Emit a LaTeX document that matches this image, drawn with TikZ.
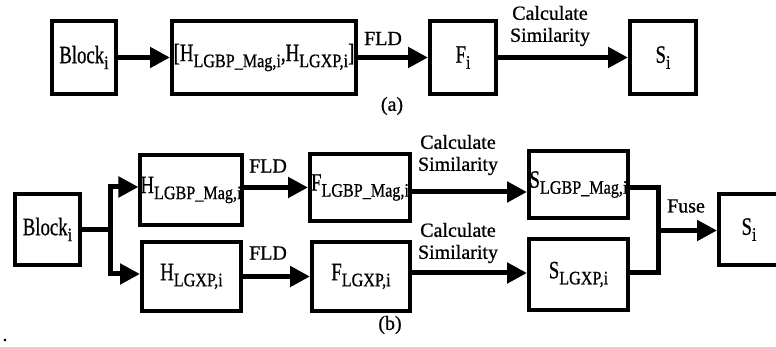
\documentclass[tikz,border=0pt]{standalone}
\usepackage{graphicx}
\usepackage{fontspec}
\setmainfont{Liberation Serif}[BoldFont={Liberation Serif}, BoldFeatures={FakeBold=0.8}]
\usetikzlibrary{arrows.meta}
\newcommand{\lowsub}[1]{\raisebox{-6pt}{\scalebox{0.85}[1]{\fontsize{19}{19}\selectfont\bfseries #1}}}
\newcommand{\bigtxt}[1]{\scalebox{0.75}[1]{\fontsize{25}{27}\selectfont\bfseries #1}}
\tikzset{
  box/.style={draw, line width=4pt, inner sep=0pt},
  arr/.style={line width=5pt, -{Triangle[length=20pt,width=20pt]}},
  ln/.style={line width=5pt},
  lbl/.style={font=\fontsize{20}{22}\selectfont\bfseries, align=center, inner sep=0pt},
}
\begin{document}
\begin{tikzpicture}[x=1pt,y=-1pt]
\useasboundingbox (0,0) rectangle (776,347);
\clip (0,0) rectangle (776,347);
% (a)
\node[box, minimum width=64pt, minimum height=73pt] (A1) at (84,57.5) {\bigtxt{Block}\lowsub{i}};
\node[box, minimum width=184pt, minimum height=73pt] (A2) at (264,57.5) {\bigtxt{[H}\lowsub{LGBP\_Mag,i}\bigtxt{,H}\lowsub{LGXP,i}\bigtxt{]}};
\node[box, minimum width=66pt, minimum height=73pt] (A3) at (463,57.5) {\bigtxt{F}\lowsub{i}};
\node[box, minimum width=66pt, minimum height=73pt] (A4) at (663,57.5) {\bigtxt{S}\lowsub{i}};
\draw[arr] (A1) -- (A2);
\draw[arr] (A2) -- (A3);
\draw[arr] (A3) -- (A4);
\node[lbl] (fldA) at (383,38.5) {FLD};
\node[lbl] (csA) at (550,26) {Calculate\\Similarity};
\node[lbl] (capA) at (392,106) {(a)};
% (b)
\node[box, minimum width=65pt, minimum height=71pt] (B1) at (47.5,229.5) {\bigtxt{Block}\lowsub{i}};
\node[box, minimum width=98pt, minimum height=70pt] (H1) at (191,190) {\bigtxt{H}\lowsub{LGBP\_Mag,i}};
\node[box, minimum width=99pt, minimum height=69pt] (H2) at (191.5,276.5) {\bigtxt{H}\lowsub{LGXP,i}};
\node[box, minimum width=100pt, minimum height=67pt] (F1) at (360,187.5) {\bigtxt{F}\lowsub{LGBP\_Mag,i}};
\node[box, minimum width=98pt, minimum height=69pt] (F2) at (361,276.5) {\bigtxt{F}\lowsub{LGXP,i}};
\node[box, minimum width=99pt, minimum height=67pt] (S1) at (578.5,184.5) {\bigtxt{S}\lowsub{LGBP\_Mag,i}};
\node[box, minimum width=99pt, minimum height=71pt] (S2) at (578.5,274.5) {\bigtxt{S}\lowsub{LGXP,i}};
\node[box, minimum width=60pt, minimum height=71pt] (SI) at (749,229.5) {\bigtxt{S}\lowsub{i}};
\coordinate (fk) at (110,229.5);
\coordinate (fu) at (658,230.5);
\draw[ln] (B1.east) -- (fk);
\draw[arr, line join=miter] (fk) -- (fk |- 0,187) -- (H1.west |- 0,187);
\draw[arr, line join=miter] (fk) -- (fk |- 0,274) -- (H2.west |- 0,274);
\draw[arr] (H1.east |- F1.west) -- (F1.west);
\draw[arr] (H2) -- (F2);
\draw[arr] ([yshift=-4.5pt]F1.east) -- ([yshift=-4.5pt]F1.east -| S1.west);
\draw[arr] ([yshift=3.5pt]F2.east) -- ([yshift=3.5pt]F2.east -| S2.west);
\draw[ln, line join=miter] (S1.east |- 0,188) -- (fu |- 0,188) -- (fu |- 0,273) -- (S2.east |- 0,273);
\draw[arr] (fu) -- (SI.west |- fu);
\node[lbl] (fldB1) at (268,166) {FLD};
\node[lbl] (fldB2) at (268,253) {FLD};
\node[lbl] (csB1) at (458,155) {Calculate\\Similarity};
\node[lbl] (csB2) at (458,243) {Calculate\\Similarity};
\node[lbl] (fuse) at (686,206) {Fuse};
\node[lbl] (capB) at (390,325) {(b)};
\node[lbl] (dot) at (5,340) {.};
\end{tikzpicture}
\end{document}
